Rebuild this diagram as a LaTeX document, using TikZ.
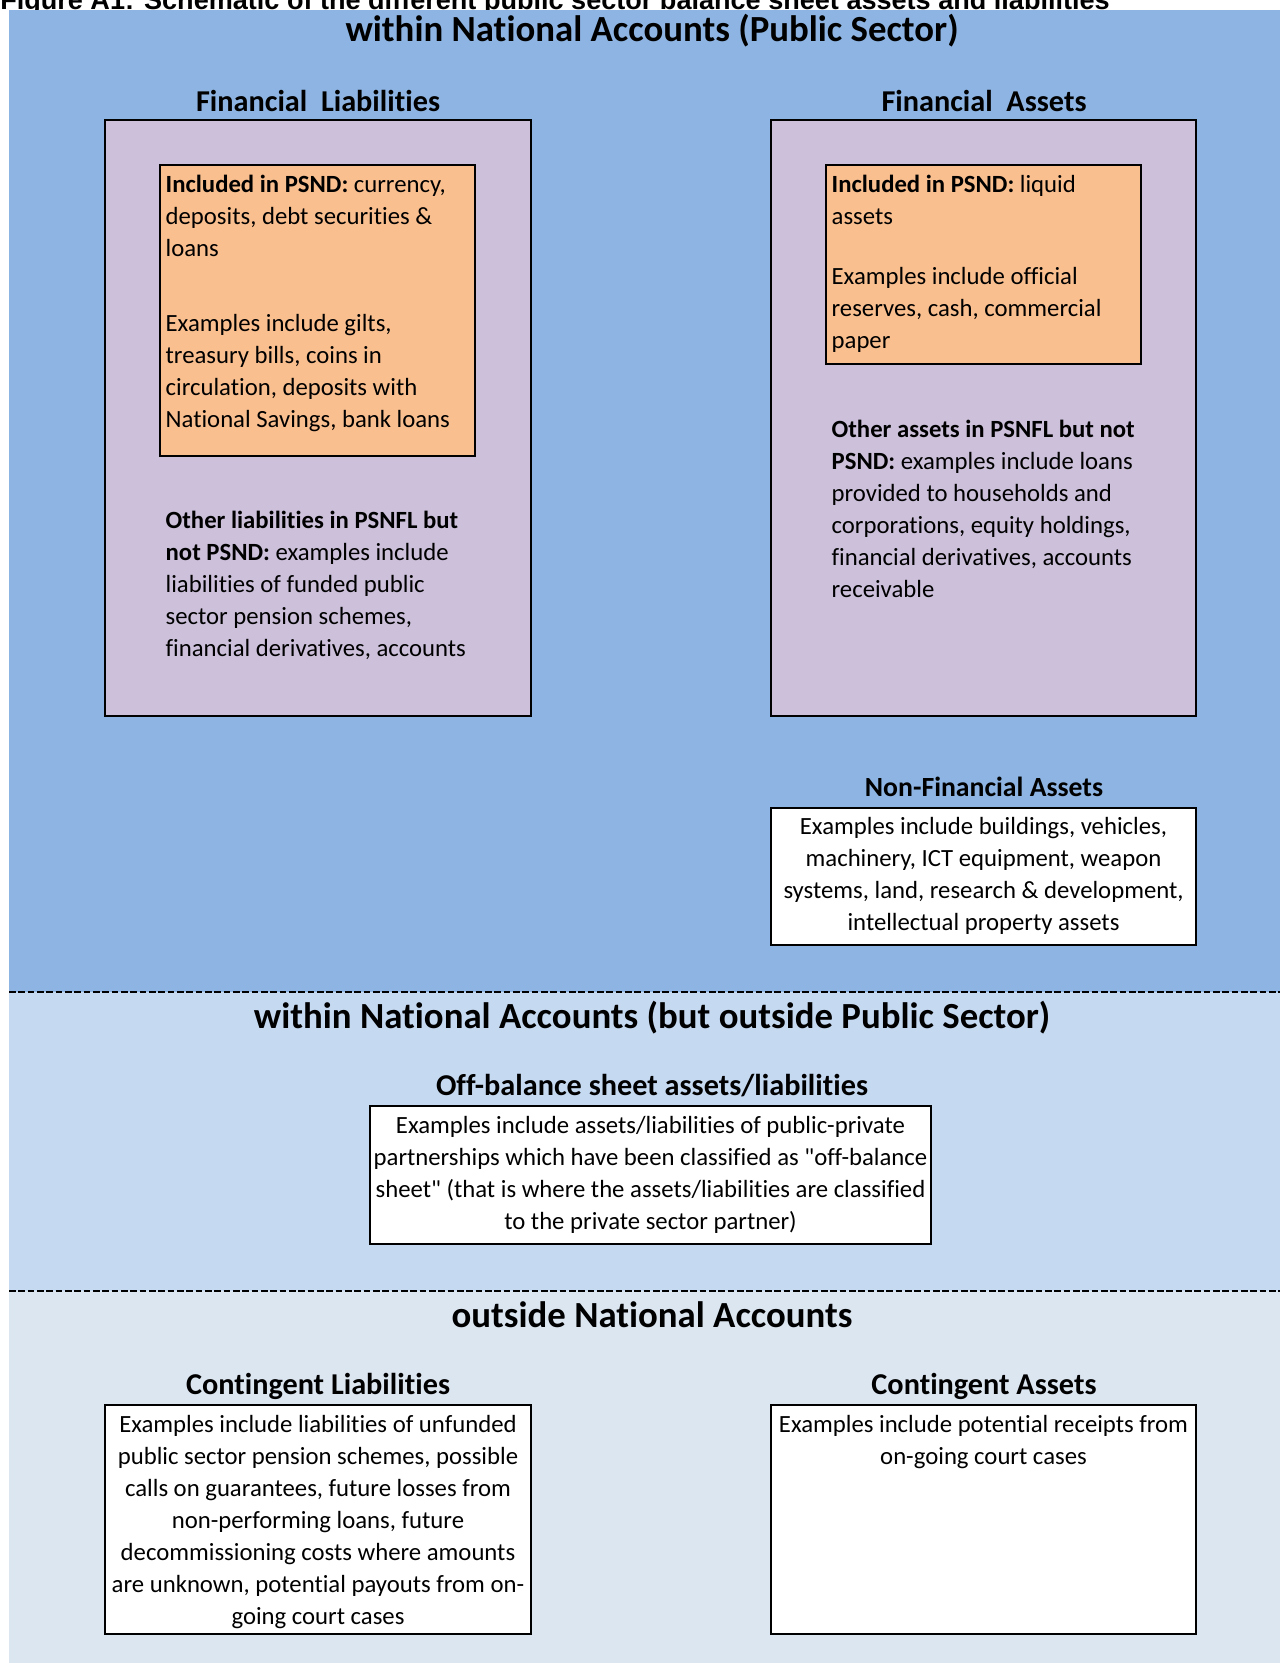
\documentclass[tikz,border=0pt]{standalone}
\usepackage{fontspec}
\setmainfont{Carlito}[Ligatures=NoCommon]
\newfontfamily\capfont{Liberation Sans}
\definecolor{bgA}{HTML}{8DB4E2}
\definecolor{bgB}{HTML}{C5D9F1}
\definecolor{bgC}{HTML}{DCE6F1}
\definecolor{purp}{HTML}{CCC0DA}
\definecolor{orng}{HTML}{FABF8F}
\newcommand\bodyfont{\fontsize{18.55}{24}\selectfont}
\begin{document}
\begin{tikzpicture}[x=0.75pt,y=-0.75pt,
  boxbase/.style={draw=black, line width=1.4pt, anchor=north west, inner sep=0pt, outer sep=0pt},
  purpbox/.style={boxbase, fill=purp},
  orngbox/.style={boxbase, fill=orng},
  whitebox/.style={boxbase, fill=white},
  bigtitle/.style={anchor=base, inner sep=0pt, font=\bfseries\fontsize{27.6}{32}\selectfont},
  subtitle/.style={anchor=base, inner sep=0pt, font=\bfseries\fontsize{22.7}{26}\selectfont},
  bodytext/.style={anchor=base west, inner sep=0pt, font=\bodyfont},
  ctext/.style={anchor=base, inner sep=0pt, font=\bodyfont},
  sepline/.style={line width=1.5pt, dash pattern=on 5pt off 2pt}
]
\useasboundingbox (0,0) rectangle (1280,1663);
\clip (0,0) rectangle (1280,1663);
\fill[white] (0,0) rectangle (1280,1663);
% clipped figure caption at the top
\node[anchor=base west, inner sep=0pt, font=\capfont\bfseries\fontsize{20.3}{24}\selectfont] (caption) at (0,9.5)
  {Figure A1: Schematic of the different public sector balance sheet assets and liabilities};
% background bands
\fill[bgA] (9,10) rectangle (1280,991.5);
\fill[bgB] (9,991.5) rectangle (1280,1290.6);
\fill[bgC] (9,1290.6) rectangle (1280,1663);
\draw[sepline] (9,991.5) -- (1280,991.5);
\draw[sepline] (9,1290.6) -- (1280,1290.6);
% section titles
\node[bigtitle] (t1) at (652,41.2) {within National Accounts (Public Sector)};
\node[bigtitle] (t2) at (652,1028.2) {within National Accounts (but outside Public Sector)};
\node[bigtitle] (t3) at (652,1327.2) {outside National Accounts};
% sub titles
\node[subtitle] (hFL) at (318,111.2) {Financial\ \ Liabilities};
\node[subtitle] (hFA) at (984,111.2) {Financial\ \ Assets};
\node[subtitle, font=\bfseries\fontsize{20.8}{25}\selectfont] (hNFA) at (984,796.2) {Non-Financial Assets};
\node[subtitle] (hOB) at (652,1095.7) {Off-balance sheet assets/liabilities};
\node[subtitle] (hCL) at (318,1394.7) {Contingent Liabilities};
\node[subtitle] (hCA) at (984,1394.7) {Contingent Assets};
% boxes
\node[purpbox, minimum width=426*0.75pt, minimum height=596*0.75pt] (FL) at (105,120) {};
\node[purpbox, minimum width=425*0.75pt, minimum height=596*0.75pt] (FA) at (771,120) {};
\node[orngbox, minimum width=315*0.75pt, minimum height=290.6*0.75pt] (FLin) at (160,165.4) {};
\node[orngbox, minimum width=315*0.75pt, minimum height=198.4*0.75pt] (FAin) at (826,165.4) {};
\node[whitebox, minimum width=425*0.75pt, minimum height=137*0.75pt] (NFA) at (771,808) {};
\node[whitebox, minimum width=561*0.75pt, minimum height=138*0.75pt] (OB) at (370,1106) {};
\node[whitebox, minimum width=426*0.75pt, minimum height=229*0.75pt] (CL) at (105,1405) {};
\node[whitebox, minimum width=425*0.75pt, minimum height=229*0.75pt] (CA) at (771,1405) {};
% texts
\node[bodytext] (FLinT) at (165.4,192.7) {\parbox[t]{320pt}{\raggedright
  \textbf{Included in PSND:} currency,\\ deposits, debt securities \&\\ loans\\[31.9pt]
  Examples include gilts,\\ treasury bills, coins in\\ circulation, deposits with\\ National Savings, bank loans}};
\node[bodytext] (FAinT) at (831.4,192.7) {\parbox[t]{320pt}{\raggedright
  \textbf{Included in PSND:} liquid\\ assets\\[20.7pt]
  Examples include official\\ reserves, cash, commercial\\ paper}};
\node[bodytext] (FLoT) at (165.4,528.8) {\parbox[t]{320pt}{\raggedright
  \textbf{Other liabilities in PSNFL but}\\ \textbf{not PSND:} examples include\\ liabilities of funded public\\ sector pension schemes,\\ financial derivatives, accounts}};
\node[bodytext] (FAoT) at (831.4,437.6) {\parbox[t]{320pt}{\raggedright
  \textbf{Other assets in PSNFL but not}\\ \textbf{PSND:} examples include loans\\ provided to households and\\ corporations, equity holdings,\\ financial derivatives, accounts\\ receivable}};
\node[ctext] (NFAT) at (983.5,834.2) {\parbox[t]{420pt}{\centering
  Examples include buildings, vehicles,\\ machinery, ICT equipment, weapon\\ systems, land, research \& development,\\ intellectual property assets}};
\node[ctext] (OBT) at (650.5,1133.2) {\parbox[t]{440pt}{\centering
  Examples include assets/liabilities of public-private\\ partnerships which have been classified as \textquotedbl off-balance\\ sheet\textquotedbl\ (that is where the assets/liabilities are classified\\ to the private sector partner)}};
\node[ctext] (CLT) at (318,1432.2) {\parbox[t]{420pt}{\centering
  Examples include liabilities of unfunded\\ public sector pension schemes, possible\\ calls on guarantees, future losses from\\ non-performing loans, future\\ decommissioning costs where amounts\\ are unknown, potential payouts from on-\\ going court cases}};
\node[ctext] (CAT) at (983.5,1432.2) {\parbox[t]{420pt}{\centering
  Examples include potential receipts from\\ on-going court cases}};
\end{tikzpicture}
\end{document}
